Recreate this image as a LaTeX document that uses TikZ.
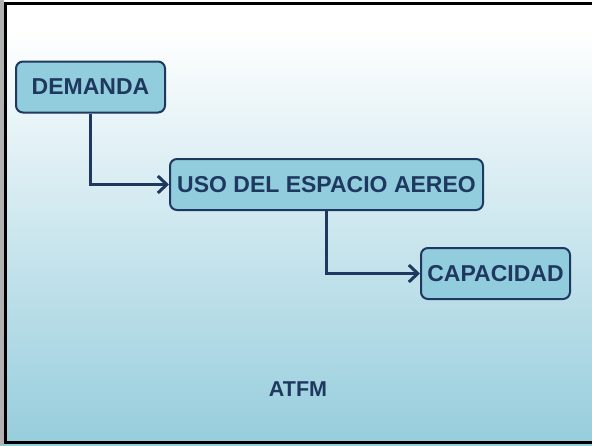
\documentclass[tikz,border=0pt]{standalone}
\usepackage{fontspec}
\setmainfont{Liberation Sans}
\usepackage{tikz}
\usetikzlibrary{arrows.meta}

\definecolor{navy}{RGB}{31,56,96}
\definecolor{boxblue}{RGB}{146,205,221}
\definecolor{bgblue}{RGB}{150,205,220}

\tikzset{
	flowbox/.style={draw=navy, line width=2pt, fill=boxblue, rounded corners=7pt,
		minimum height=51pt, inner sep=0pt, font=\bfseries\fontsize{23}{27}\selectfont, text=navy},
	flowline/.style={draw=navy, line width=3.5pt, -{Straight Barb[length=9pt,width=17pt,line width=3pt]}}
}

\begin{document}
\begin{tikzpicture}[x=1pt,y=-1pt]

	\useasboundingbox (0,0) rectangle (592,445);
	\fill[white] (0,0) rectangle (592,30);
	\shade[top color=white, bottom color=white!93!bgblue] (0,30) rectangle (592,60);
	\shade[top color=white!93!bgblue, bottom color=bgblue] (0,60) rectangle (592,445);
	\fill[gray!60] (0,0) rectangle (4,445);
	\draw[line width=3pt] (593,3.5) -- (5.5,3.5) -- (5.5,442.5) -- (593,442.5);

	\node[flowbox, minimum width=149pt] (demanda) at (90.5,87) {DEMANDA};
	\node[flowbox, minimum width=313pt] (uso) at (326.5,184.5) {USO DEL ESPACIO AEREO};
	\node[flowbox, minimum width=149pt] (capacidad) at (495.5,273.5) {CAPACIDAD};
	\node[font=\bfseries\fontsize{21.5}{25}\selectfont, text=navy] (atfm) at (298,389) {ATFM};

	\draw[flowline] (demanda.south) |- (uso.west);
	\draw[flowline] (uso.south) |- (capacidad.west);

\end{tikzpicture}
\end{document}
